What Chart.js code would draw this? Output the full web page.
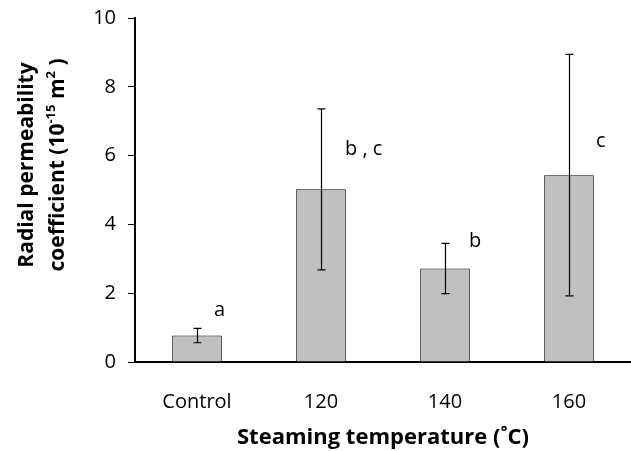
<!DOCTYPE html>
<html>
<head>
<meta charset="utf-8">
<script src="https://cdn.jsdelivr.net/npm/chart.js@4"></script>
<style>
  html, body { margin: 0; padding: 0; background: #fff; }
  #wrap { width: 631px; height: 451px; position: relative; }
</style>
</head>
<body>
<div id="wrap"><canvas id="chart"></canvas></div>
<script>
// chart values
const categories = ['Control', '120', '140', '160'];
const meanValues = [0.77, 5.02, 2.72, 5.43];
const errorValues = [0.21, 2.34, 0.73, 3.51];
const groupLetters = ['a', 'b , c', 'b', 'c'];
const letterHeights = [1.51, 6.17, 3.5, 6.41];
const yTicks = [0, 2, 4, 6, 8, 10];

const FONT = '"Open Sans", sans-serif';

// error bars + significance letters
const errorBarPlugin = {
    id: 'errorBars',
    afterDatasetsDraw(chart) {
        const ctx = chart.ctx;
        const meta = chart.getDatasetMeta(0);
        const y = chart.scales.y;
        ctx.save();
        ctx.strokeStyle = '#000';
        ctx.lineWidth = 1.2;
        meta.data.forEach((bar, i) => {
            const x = Math.round(bar.x) + 0.5;
            const top = y.getPixelForValue(meanValues[i] + errorValues[i]);
            const bot = y.getPixelForValue(meanValues[i] - errorValues[i]);
            ctx.beginPath();
            ctx.moveTo(x, top); ctx.lineTo(x, bot);
            ctx.moveTo(x - 4, top); ctx.lineTo(x + 4, top);
            ctx.moveTo(x - 4, bot); ctx.lineTo(x + 4, bot);
            ctx.stroke();
        });
        // letters
        ctx.fillStyle = '#000';
        ctx.font = '20px ' + FONT;
        ctx.textAlign = 'left';
        ctx.textBaseline = 'middle';
        const offsets = [17, 24, 24, 27];
        meta.data.forEach((bar, i) => {
            ctx.fillText(groupLetters[i], bar.x + offsets[i], y.getPixelForValue(letterHeights[i]));
        });
        ctx.restore();
    }
};

// two-line rotated y title with superscripts
const yTitlePlugin = {
    id: 'yTitle',
    afterDraw(chart) {
        const ctx = chart.ctx;
        ctx.save();
        ctx.fillStyle = '#000';
        ctx.textBaseline = 'middle';
        const cy = 165;
        function line(parts, cx) {
            let total = 0;
            parts.forEach(p => { ctx.font = p[1]; total += ctx.measureText(p[0]).width; });
            ctx.save();
            ctx.translate(cx, cy);
            ctx.rotate(-Math.PI / 2);
            let x = -total / 2;
            ctx.textAlign = 'left';
            parts.forEach(p => {
                ctx.font = p[1];
                ctx.fillText(p[0], x, p[2] || 0);
                x += ctx.measureText(p[0]).width;
            });
            ctx.restore();
        }
        const big = 'bold 21px ' + FONT;
        const sup = 'bold 13px ' + FONT;
        line([['Radial permeability', big]], 27);
        line([['coefficient (10', big], ['-15', sup, -7], [' m', big], ['2', sup, -7], [' )', big]], 58);
        ctx.restore();
    }
};

new Chart(document.getElementById('chart'), {
    type: 'bar',
    data: {
        labels: categories,
        datasets: [{
            data: meanValues,
            backgroundColor: '#c0c0c0',
            borderColor: '#000',
            borderWidth: 1,
            barPercentage: 0.4,
            categoryPercentage: 1
        }]
    },
    options: {
        responsive: true,
        maintainAspectRatio: false,
        animation: false,
        layout: { padding: { top: 18, right: 0, left: 0, bottom: 0 } },
        plugins: { legend: { display: false }, tooltip: { enabled: false } },
        scales: {
            x: {
                grid: { display: false, drawTicks: false },
                border: { color: '#000', width: 2 },
                ticks: { color: '#000', font: { family: FONT, size: 20 }, padding: 28 },
                title: {
                    display: true,
                    text: 'Steaming temperature (˚C)',
                    color: '#000',
                    font: { family: FONT, size: 22, weight: 'bold' },
                    padding: { top: 2, bottom: 0 }
                },
                afterFit(scale) { scale.height = 89; scale.paddingLeft = 0; scale.paddingRight = 0; }
            },
            y: {
                min: 0,
                max: 10,
                afterBuildTicks(scale) { scale.ticks = yTicks.map(v => ({ value: v })); },
                grid: { drawOnChartArea: false, color: '#000', tickLength: 7, tickWidth: 1 },
                border: { color: '#000', width: 2 },
                ticks: { color: '#000', font: { family: FONT, size: 20 }, padding: 12 },
                afterFit(scale) { scale.width = 135; scale.paddingTop = 0; scale.paddingBottom = 0; }
            }
        }
    },
    plugins: [errorBarPlugin, yTitlePlugin]
});
</script>
</body>
</html>
